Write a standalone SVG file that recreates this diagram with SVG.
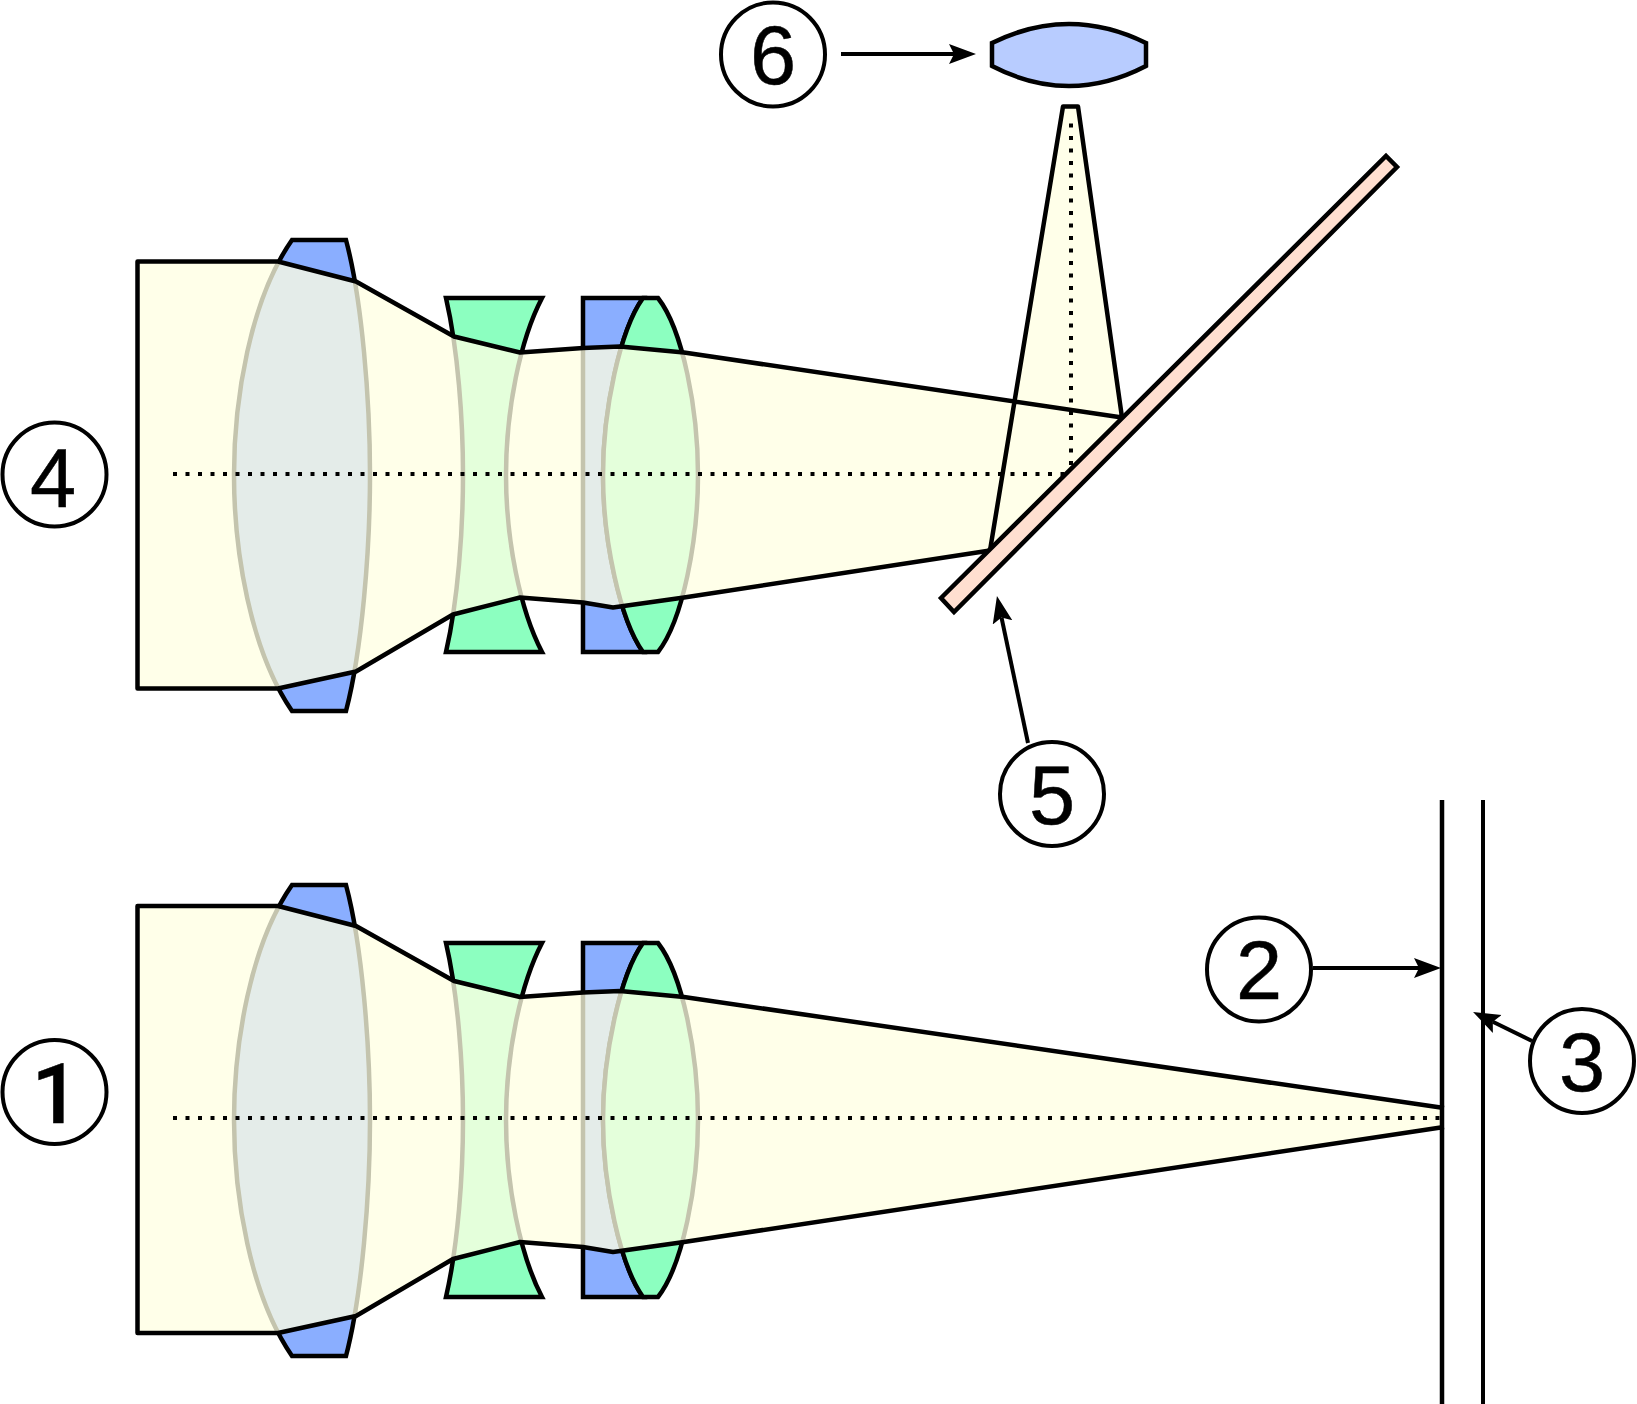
<svg xmlns="http://www.w3.org/2000/svg" xmlns:xlink="http://www.w3.org/1999/xlink" width="1637" height="1404" viewBox="0 0 1637 1404">
<style>
.lens{stroke:#000;stroke-width:4.5;stroke-linejoin:miter}
.blue{fill:#8aaeff}.green{fill:#8cffc0}
.beam{fill:#ffffe2;fill-opacity:.77;stroke:none}
.ray{fill:none;stroke:#000;stroke-width:4.5;stroke-linejoin:round}
.axis{fill:none;stroke:#000;stroke-width:4;stroke-dasharray:4 8.5}
.ring{fill:#fff;stroke:#000;stroke-width:4}
.num{font-family:"Liberation Sans",Arial,sans-serif;font-size:83px;text-anchor:middle;fill:#000;stroke:#000;stroke-width:.5}
.arrow{fill:none;stroke:#000;stroke-width:4;marker-end:url(#head)}
.plane{fill:none;stroke:#000}
</style>
<defs>
<marker id="head" markerUnits="userSpaceOnUse" markerWidth="30" markerHeight="24" viewBox="0 -12 30 24" refX="5" refY="0" orient="auto"><path d="M0,-10L27,0L0,10L5,0Z" fill="#000"/></marker>
<g id="lenses">
<path class="lens blue" d="M292,240H346C362,300 370,400 370,475C370,550 362,650 346,711H292C250,650 234,550 234,475C234,400 250,300 292,240Z"/>
<path class="lens green" d="M446,298H542C520,340 506,410 506,475C506,540 520,610 542,652H446C458,600 463,530 463,475C463,420 458,350 446,298Z"/>
<path class="lens blue" d="M583,298H643C620,330 603,410 603,475C603,540 620,620 643,652H583Z"/>
<path class="lens green" d="M643,298H658C683,330 698,410 698,475C698,540 683,620 658,652H643C620,620 603,540 603,475C603,410 620,330 643,298Z"/>
</g>
</defs>
<g id="system-top">
<use href="#lenses" xlink:href="#lenses"/>
<g transform="translate(0,.5)">
<path class="beam" d="M137.5,261H278L356,281L454,336L520,352L583,347.5L620,346L684,352L1014.5,401L1063,106H1078L1122,417L990,550L684,597L613,607L583,602L520,597L453,614L356,671L278,688H137.5Z"/>
<path class="ray" d="M278,261H137.5V688H278L356,671L453,614L520,597L583,602L613,607L684,597L990,550L1063,106H1078L1122,417L684,352L620,346L583,347.5L520,352L454,336L356,281L278,261"/>
</g>
<path class="axis" d="M173,474H1066M1071,465V115"/>
</g>
<g id="system-bottom">
<use href="#lenses" xlink:href="#lenses" y="645"/>
<path class="beam" d="M137.5,906H278L356,926L454,981L520,997L583,992.5L620,991L684,997L1442,1108V1127L684,1242L613,1252L583,1247L520,1242L453,1259L356,1316L278,1333H137.5Z"/>
<path class="ray" d="M1444,1108L684,997L620,991L583,992.5L520,997L454,981L356,926L278,906H137.5V1333H278L356,1316L453,1259L520,1242L583,1247L613,1252L684,1242L1444,1127"/>
<path class="axis" d="M173,1118H1442"/>
</g>
<g id="mirror"><path d="M941,598L1386,156L1397,167L954,612Z" fill="#ffdfd0" stroke="#000" stroke-width="4.5"/></g>
<g id="eyepiece"><path d="M992,43Q1069,5 1146,43V66Q1069,106 992,66Z" fill="#b8ccff" stroke="#000" stroke-width="4.5"/></g>
<g id="film-plane"><path class="plane" stroke-width="4.5" d="M1442,800V1404"/></g>
<g id="sensor-plane"><path class="plane" stroke-width="4" d="M1483,800V1404"/></g>
<g id="connectors">
<path class="arrow" d="M841,54H954"/>
<path class="arrow" d="M1313,968H1419"/>
<path class="arrow" d="M1532,1041L1492.8,1021.7"/>
<path class="arrow" d="M1028,743L1001.5,617.5"/>
</g>
<g id="n1"><circle class="ring" cx="54.5" cy="1092" r="52"/><text class="num" x="55.5" y="1123" style="font-family:Roboto,'Liberation Sans',sans-serif;font-size:84px;font-weight:500;stroke-width:.5">1</text></g>
<g id="n2"><circle class="ring" cx="1259" cy="969.5" r="52"/><text class="num" x="1259" y="999">2</text></g>
<g id="n3"><circle class="ring" cx="1582" cy="1061" r="52"/><text class="num" x="1582" y="1091">3</text></g>
<g id="n4"><circle class="ring" cx="54.5" cy="474.5" r="52"/><text class="num" x="53" y="507">4</text></g>
<g id="n5"><circle class="ring" cx="1052" cy="794" r="52"/><text class="num" x="1052" y="824">5</text></g>
<g id="n6"><circle class="ring" cx="773" cy="54.5" r="52"/><text class="num" x="773" y="84">6</text></g>
</svg>
